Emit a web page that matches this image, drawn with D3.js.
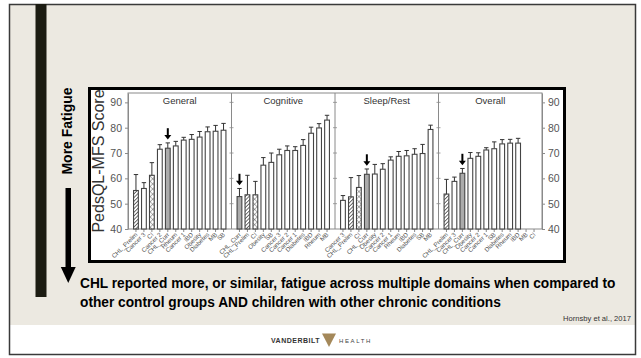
<!DOCTYPE html>
<html>
<head>
<meta charset="utf-8">
<script src="https://cdn.jsdelivr.net/npm/d3@7"></script>
<style>
  html, body { margin: 0; padding: 0; background: #ffffff; }
  svg { display: block; }
  text { font-family: "Liberation Sans", Arial, sans-serif; }
</style>
</head>
<body>
<svg id="slide" width="641" height="358"></svg>
<script>
// PedsQL Multidimensional Fatigue Scale scores by group, four domains
const panels = ["General", "Cognitive", "Sleep/Rest", "Overall"];

const generalGroups = ["CHL_Prelim", "Cancer 3", "CI", "Cancer 2", "CHL_Curr", "Rheum", "Cancer 1", "IBD", "Obesity", "Diabetes", "MB", "SB"];
const generalMeans  = [55.2, 56.0, 61.2, 71.5, 71.9, 72.8, 75.1, 75.4, 76.3, 78.4, 78.6, 79.0];
const generalUpper  = [61.5, 58.3, 66.2, 73.3, 74.0, 74.6, 76.2, 77.3, 78.5, 80.3, 80.9, 81.7];

const cognitiveGroups = ["CHL_Curr", "CHL_Prelim", "CI", "Obesity", "SB", "Cancer 3", "Cancer 2", "Cancer 1", "Diabetes", "IBD", "Rheum", "MB"];
const cognitiveMeans  = [52.8, 53.5, 53.5, 65.2, 66.3, 69.3, 71.0, 71.0, 73.0, 77.8, 79.9, 83.0];
const cognitiveUpper  = [56.0, 61.2, 58.8, 68.2, 70.0, 71.5, 72.8, 72.5, 75.3, 80.2, 81.6, 84.9];

const sleepGroups = ["Cancer 3", "CHL_Prelim", "CI", "CHL_Curr", "Obesity", "Cancer 2", "Cancer 1", "Rheum", "IBD", "Diabetes", "SB", "MB"];
const sleepMeans  = [51.3, 52.7, 56.4, 61.6, 61.7, 63.6, 67.2, 68.7, 68.9, 69.5, 69.8, 79.3];
const sleepUpper  = [53.2, 60.3, 61.1, 63.7, 65.5, 65.8, 68.5, 70.6, 71.0, 71.7, 73.4, 81.0];

const overallGroups = ["CHL_Prelim", "Cancer 3", "CHL_Curr", "Obesity", "Cancer 2", "Cancer 1", "SB", "Diabetes", "Rheum", "IBD", "MB", "CI"];
const overallMeans  = [53.8, 58.8, 62.0, 67.9, 68.7, 71.2, 71.7, 73.6, 73.9, 73.9, null, null];
const overallUpper  = [59.6, 60.5, 63.9, 70.2, 70.1, 72.1, 74.4, 75.3, 75.4, 75.8, null, null];

const yTicks = [40, 50, 60, 70, 80, 90];
const highlightGroup = "CHL_Curr";

const captionLines = [
  "CHL reported more, or similar, fatigue across multiple domains when compared to",
  "other control groups AND children with other chronic conditions"
];

// Assemble the per-panel tables
const panelData = [
  { name: panels[0], groups: generalGroups,   means: generalMeans,   upper: generalUpper },
  { name: panels[1], groups: cognitiveGroups, means: cognitiveMeans, upper: cognitiveUpper },
  { name: panels[2], groups: sleepGroups,     means: sleepMeans,     upper: sleepUpper },
  { name: panels[3], groups: overallGroups,   means: overallMeans,   upper: overallUpper }
];

const svg = d3.select("#slide");

// ---------- slide background ----------
svg.append("rect").attr("x", 9).attr("y", 4).attr("width", 627).attr("height", 351)
  .attr("fill", "#ffffff");
svg.append("rect").attr("x", 9).attr("y", 4).attr("width", 627).attr("height", 321)
  .attr("fill", "#ECE9E1");
svg.append("rect").attr("x", 9.5).attr("y", 4.5).attr("width", 626).attr("height", 350)
  .attr("fill", "none").attr("stroke", "#3a3a3a").attr("stroke-width", 1.5);
svg.append("rect").attr("x", 35.5).attr("y", 4).attr("width", 11).attr("height", 293)
  .attr("fill", "#1c1c12");

// "More Fatigue" with downward arrow
svg.append("text")
  .attr("transform", "translate(71.5,131) rotate(-90)")
  .attr("text-anchor", "middle")
  .attr("font-size", 14).attr("font-weight", "bold").attr("fill", "#000")
  .text("More Fatigue");
svg.append("rect").attr("x", 65.5).attr("y", 188).attr("width", 5.5).attr("height", 80).attr("fill", "#000");
svg.append("path").attr("d", "M60.8,267 L75.7,267 L68.25,283 Z").attr("fill", "#000");

// ---------- chart frame ----------
svg.append("rect").attr("x", 89.5).attr("y", 88.5).attr("width", 475).attr("height", 173)
  .attr("fill", "#ffffff").attr("stroke", "#000").attr("stroke-width", 3);

const plot = { left: 128, right: 542, top: 93, bottom: 229 };

const y = d3.scaleLinear().domain([40, 93.7]).range([plot.bottom, plot.top]);
const panelX = d3.scaleBand().domain(panels).range([plot.left, plot.right]).padding(0);

// fill patterns
const defs = svg.append("defs");
const hatch = defs.append("pattern").attr("id", "hatch")
  .attr("patternUnits", "userSpaceOnUse").attr("width", 2.6).attr("height", 2.6)
  .attr("patternTransform", "rotate(45)");
hatch.append("rect").attr("width", 2.6).attr("height", 2.6).attr("fill", "#ffffff");
hatch.append("line").attr("x1", 0).attr("y1", 0).attr("x2", 0).attr("y2", 2.6)
  .attr("stroke", "#333").attr("stroke-width", 1.4);

const cross = defs.append("pattern").attr("id", "cross")
  .attr("patternUnits", "userSpaceOnUse").attr("width", 3.6).attr("height", 3.6)
  .attr("patternTransform", "rotate(45)");
cross.append("rect").attr("width", 3.6).attr("height", 3.6).attr("fill", "#ffffff");
cross.append("line").attr("x1", 0).attr("y1", 0).attr("x2", 0).attr("y2", 3.6)
  .attr("stroke", "#444").attr("stroke-width", 0.8);
cross.append("line").attr("x1", 0).attr("y1", 0).attr("x2", 3.6).attr("y2", 0)
  .attr("stroke", "#444").attr("stroke-width", 0.8);

function barFill(group) {
  if (group === "CHL_Curr") return "#ababab";
  if (group === "CHL_Prelim") return "url(#hatch)";
  if (group === "CI") return "url(#cross)";
  return "#ffffff";
}

const axisColor = "#8a8a8a";
const labelColor = "#555";

// plot border
svg.append("rect")
  .attr("x", plot.left).attr("y", plot.top)
  .attr("width", plot.right - plot.left).attr("height", plot.bottom - plot.top)
  .attr("fill", "none").attr("stroke", axisColor).attr("stroke-width", 1);

// y axes on both sides
function styleAxis(g) {
  g.select(".domain").attr("stroke", axisColor);
  g.selectAll(".tick line").attr("stroke", axisColor);
  g.selectAll(".tick text").attr("fill", labelColor)
    .attr("font-family", "'Liberation Sans', Arial, sans-serif").attr("font-size", 10.5);
}
svg.append("g").attr("transform", `translate(${plot.left},0)`)
  .call(d3.axisLeft(y).tickValues(yTicks).tickSize(3).tickPadding(3).tickSizeOuter(0))
  .call(styleAxis);
svg.append("g").attr("transform", `translate(${plot.right},0)`)
  .call(d3.axisRight(y).tickValues(yTicks).tickSize(3).tickPadding(3).tickSizeOuter(0))
  .call(styleAxis);

// y axis title
svg.append("text")
  .attr("transform", `translate(104,${(plot.top + plot.bottom) / 2}) rotate(-90)`)
  .attr("text-anchor", "middle")
  .attr("font-size", 16).attr("fill", "#333")
  .text("PedsQL-MFS Score");

panelData.forEach((p, pi) => {
  const x0 = panelX(p.name);
  const bw = panelX.bandwidth();
  const x = d3.scaleBand().domain(p.groups).range([x0, x0 + bw])
    .paddingInner(0.4).paddingOuter(0.7);
  const g = svg.append("g");

  // divider between panels, with small ticks on both sides
  if (pi > 0) {
    g.append("line").attr("x1", x0).attr("x2", x0).attr("y1", plot.top).attr("y2", plot.bottom)
      .attr("stroke", axisColor).attr("stroke-width", 1);
    g.selectAll(".dtick").data(yTicks.slice(1)).join("line")
      .attr("x1", x0 - 2).attr("x2", x0 + 2)
      .attr("y1", d => y(d)).attr("y2", d => y(d))
      .attr("stroke", axisColor).attr("stroke-width", 0.8);
  }

  // panel title
  g.append("text").attr("x", x0 + bw / 2).attr("y", plot.top + 11)
    .attr("text-anchor", "middle").attr("font-size", 9.5).attr("fill", "#333")
    .text(p.name);

  // category axis with angled labels
  const ax = g.append("g").attr("transform", `translate(0,${plot.bottom})`)
    .call(d3.axisBottom(x).tickSize(3).tickSizeOuter(0));
  ax.select(".domain").remove();
  ax.selectAll(".tick line").attr("stroke", axisColor);
  ax.selectAll(".tick text")
    .attr("fill", labelColor).attr("font-size", 6.2)
    .attr("font-family", "'Liberation Sans', Arial, sans-serif")
    .attr("text-anchor", "end")
    .attr("dy", null).attr("y", 0)
    .attr("transform", "translate(2,6) rotate(-45)");

  const rows = p.groups.map((grp, i) => ({ grp, mean: p.means[i], upper: p.upper[i] }))
    .filter(d => d.mean != null);

  // error bars (upper whisker with cap)
  const cap = 2.2;
  rows.forEach(d => {
    const cx = x(d.grp) + x.bandwidth() / 2;
    g.append("line").attr("x1", cx).attr("x2", cx).attr("y1", y(d.mean)).attr("y2", y(d.upper))
      .attr("stroke", "#333").attr("stroke-width", 1);
    g.append("line").attr("x1", cx - cap).attr("x2", cx + cap).attr("y1", y(d.upper)).attr("y2", y(d.upper))
      .attr("stroke", "#333").attr("stroke-width", 1);
  });

  // bars
  g.selectAll(".bar").data(rows).join("rect")
    .attr("x", d => x(d.grp)).attr("width", x.bandwidth())
    .attr("y", d => y(d.mean)).attr("height", d => y(40) - y(d.mean))
    .attr("fill", d => barFill(d.grp))
    .attr("stroke", "#444").attr("stroke-width", 1.1);

  // marker arrow above the current CHL group
  const h = rows.find(d => d.grp === highlightGroup);
  if (h) {
    const cx = x(h.grp) + x.bandwidth() / 2;
    const tip = y(h.upper + 1.3);
    const tail = y(h.upper + 5.8);
    g.append("line").attr("x1", cx).attr("x2", cx).attr("y1", tail).attr("y2", tip - 3)
      .attr("stroke", "#000").attr("stroke-width", 2);
    g.append("path")
      .attr("d", `M${cx - 3.5},${tip - 4.5} L${cx + 3.5},${tip - 4.5} L${cx},${tip} Z`)
      .attr("fill", "#000");
  }
});

// ---------- caption: both lines share one horizontal scale, fitted to the first line ----------
const captionNodes = captionLines.map(line => svg.append("text")
  .attr("font-size", 15.5).attr("font-weight", "bold").attr("fill", "#000")
  .text(line));
const captionScale = 536 / captionNodes[0].node().getComputedTextLength();
captionNodes.forEach((t, i) => {
  t.attr("transform", `translate(80,${288 + i * 18.5}) scale(${captionScale},1)`);
});

svg.append("text").attr("x", 631).attr("y", 321)
  .attr("text-anchor", "end").attr("font-size", 7.6).attr("fill", "#333")
  .text("Hornsby et al., 2017");

// ---------- footer logo ----------
svg.append("text").attr("x", 320).attr("y", 343)
  .attr("text-anchor", "end").attr("font-family", "'Liberation Serif', serif")
  .attr("font-size", 7).attr("font-weight", "bold").attr("letter-spacing", 0.5)
  .attr("fill", "#333").text("VANDERBILT");
svg.append("path").attr("d", "M322,333.5 L336,333.5 L329,347 Z").attr("fill", "#a4885a");
svg.append("text").attr("x", 339).attr("y", 343)
  .attr("font-size", 6).attr("letter-spacing", 1.6)
  .attr("fill", "#444").text("HEALTH");
</script>
</body>
</html>
